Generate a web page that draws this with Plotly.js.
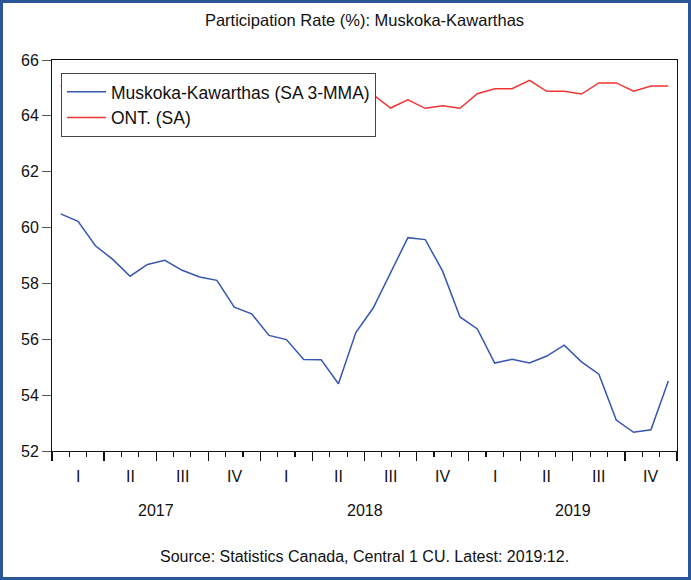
<!DOCTYPE html>
<html>
<head>
<meta charset="utf-8">
<script src="https://cdn.plot.ly/plotly-3.0.1.min.js"></script>
<style>
  html, body { margin: 0; padding: 0; background: #fff; }
  #wrap { width: 691px; height: 580px; box-sizing: border-box; border: 3px solid #2a5596; overflow: hidden; }
  #chart { width: 685px; height: 574px; }
</style>
</head>
<body>
<div id="wrap"><div id="chart"></div></div>
<script>
// Monthly periods 2017:01 - 2019:12
const years = ['2017', '2018', '2019'];
const quarters = ['I', 'II', 'III', 'IV'];
const months = [];
years.forEach(y => { for (let m = 1; m <= 12; m++) months.push(y + ':' + String(m).padStart(2, '0')); });

// Muskoka-Kawarthas participation rate (SA 3-MMA)
const muskoka = [60.49, 60.22, 59.35, 58.86, 58.26, 58.68, 58.83, 58.47, 58.23, 58.11, 57.15, 56.91,
                 56.14, 55.99, 55.28, 55.27, 54.41, 56.24, 57.12, 58.40, 59.64, 59.57, 58.44, 56.80,
                 56.37, 55.15, 55.28, 55.15, 55.40, 55.79, 55.19, 54.75, 53.11, 52.67, 52.76, 54.51];
// Ontario participation rate (SA)
const ontario = [65.08, 64.90, 64.85, 64.90, 64.75, 64.80, 64.65, 64.70, 64.60, 64.75, 64.70, 64.65,
                 64.55, 64.50, 64.60, 64.55, 64.70, 64.80, 64.76, 64.28, 64.57, 64.27, 64.36, 64.27,
                 64.79, 64.97, 64.97, 65.27, 64.88, 64.88, 64.78, 65.18, 65.18, 64.88, 65.07, 65.07];

const yTicks = [52, 54, 56, 58, 60, 62, 64, 66];

// month positions: center of each monthly slot on a numeric axis
const xPos = months.map((_, i) => i + 0.5);

const FONT = 'Liberation Sans, Arial, sans-serif';

const traces = [
  { x: xPos, y: muskoka, text: months, type: 'scatter', mode: 'lines', name: 'Muskoka-Kawarthas (SA 3-MMA)',
    line: { color: '#3656b0', width: 1.5 } },
  { x: xPos, y: ontario, text: months, type: 'scatter', mode: 'lines', name: 'ONT. (SA)',
    line: { color: '#f03535', width: 1.5 } }
];

const annotations = [];
years.forEach((yr, yi) => {
  quarters.forEach((q, qi) => {
    annotations.push({ x: yi * 12 + qi * 3 + 1.5, xref: 'x', y: 0, yref: 'paper', yanchor: 'middle',
      yshift: -25, text: q, showarrow: false, font: { family: FONT, size: 16, color: '#111' } });
  });
  annotations.push({ x: yi * 12 + 6, xref: 'x', y: 0, yref: 'paper', yanchor: 'middle',
    yshift: -59, text: yr, showarrow: false, font: { family: FONT, size: 16, color: '#111' } });
});
annotations.push({ x: 0.5, xref: 'paper', y: 0, yref: 'paper', yanchor: 'middle', xanchor: 'center',
  yshift: -105, text: 'Source: Statistics Canada, Central 1 CU. Latest: 2019:12.', showarrow: false,
  font: { family: FONT, size: 16, color: '#111' } });

const layout = {
  width: 685, height: 574,
  margin: { l: 49, r: 10.5, t: 57, b: 126, pad: 0 },
  paper_bgcolor: '#fff', plot_bgcolor: '#fff',
  font: { family: FONT, size: 16, color: '#111' },
  title: { text: 'Participation Rate (%): Muskoka-Kawarthas', x: 0.5, xref: 'paper', xanchor: 'center',
    y: 1 - 17 / 574, yref: 'container', yanchor: 'middle', font: { family: FONT, size: 16.5, color: '#111' } },
  showlegend: true,
  legend: { x: 0.0144, y: 0.967, xanchor: 'left', yanchor: 'top', bgcolor: '#fff', bordercolor: '#444',
    borderwidth: 1, itemwidth: 39, font: { family: FONT, size: 17.5, color: '#111' }, tracegroupgap: 0 },
  xaxis: { range: [0, 36], showgrid: false, zeroline: false, showline: true, linecolor: '#111', linewidth: 1,
    mirror: true, ticks: 'outside', tickmode: 'linear', tick0: 0, dtick: 3, ticklen: 9, tickwidth: 1.2,
    tickcolor: '#111', showticklabels: false,
    minor: { ticks: 'outside', tickmode: 'linear', tick0: 0, dtick: 1, ticklen: 5, tickwidth: 1.2, tickcolor: '#111', showgrid: false } },
  yaxis: { range: [52, 66], showgrid: false, zeroline: false, showline: true, linecolor: '#111', linewidth: 1,
    mirror: true, ticks: 'outside', tickmode: 'array', tickvals: yTicks, ticktext: yTicks.map(String),
    ticklen: 9, tickwidth: 1, tickcolor: '#555', tickfont: { family: FONT, size: 16, color: '#111' } },
  annotations: annotations
};

Plotly.newPlot('chart', traces, layout, { displayModeBar: false, staticPlot: true });
</script>
</body>
</html>
